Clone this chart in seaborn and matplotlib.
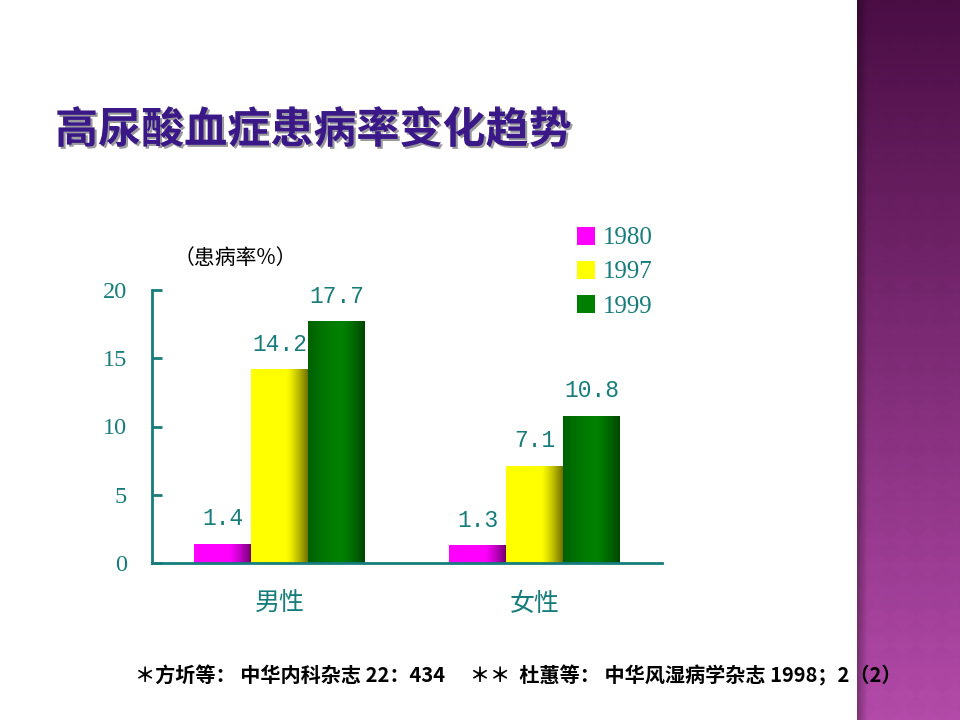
import numpy as np
import pandas as pd
import matplotlib
matplotlib.use('Agg')
import matplotlib.pyplot as plt
import matplotlib.colors as mcolors
import matplotlib.patheffects as pe
from matplotlib.patches import Patch
import seaborn as sns

# data
groups = ['男性', '女性']
years = ['1980', '1997', '1999']
rate_1980 = [1.4, 1.3]
rate_1997 = [14.2, 7.1]
rate_1999 = [17.7, 10.8]

df = pd.DataFrame({
    'sex': groups * 3,
    'year': [years[0]] * 2 + [years[1]] * 2 + [years[2]] * 2,
    'rate': rate_1980 + rate_1997 + rate_1999,
})

colors = {'1980': '#ff00ff', '1997': '#ffff00', '1999': '#008000'}
teal = '#167c7c'
cjk = ['Noto Sans CJK SC', 'DejaVu Sans']

sns.set_style('white')
plt.rcParams['font.family'] = cjk

fig = plt.figure(figsize=(9.6, 7.2), dpi=100)
fig.patch.set_facecolor('white')

# decorative purple band on the right
band = fig.add_axes([857 / 960, 0, 103 / 960, 1])
h, w = 720, 103
yy, xx = np.mgrid[0:h, 0:w]
t = yy / h
top = np.array(mcolors.to_rgb('#4a0d44'))
bot = np.array(mcolors.to_rgb('#b34aa9'))
img = top[None, None, :] * (1 - t[..., None]) + bot[None, None, :] * t[..., None]
s = 26
diam = (((xx + yy) // s + (xx - yy + 1000) // s) % 2) * 0.014 - 0.007
img = img * (1 + diam[..., None])
shade = np.clip(xx / 10.0, 0, 1) * 0.3 + 0.7
img = img * shade[..., None]
band.imshow(np.clip(img, 0, 1), aspect='auto', extent=(0, w, h, 0))
band.axis('off')

ax = fig.add_axes([152 / 960, 157 / 720, 510 / 960, 273 / 720])
sns.barplot(data=df, x='sex', y='rate', hue='year', palette=colors,
            width=0.67, saturation=1, ax=ax, edgecolor='none', linewidth=0)

# cylinder-like shading on each bar
tt = np.linspace(0, 1, 64)
for patch, yr in zip(ax.patches, [y for y in years for _ in groups]):
    if patch.get_height() <= 0:
        continue
    base = np.array(mcolors.to_rgb(colors[yr]))
    if yr == '1999':
        f = 0.75 + 0.25 * np.sin(np.clip(tt / 0.6, 0, 1) * np.pi / 2)
        f = f - 0.45 * np.clip((tt - 0.6) / 0.4, 0, 1) ** 1.3
    else:
        f = 1 - 0.55 * np.clip((tt - 0.62) / 0.38, 0, 1) ** 1.3
    grad = np.clip(base[None, :] * f[:, None], 0, 1)[None, :, :]
    x0, y0 = patch.get_x(), patch.get_y()
    im = ax.imshow(grad, aspect='auto', interpolation='bilinear',
                   extent=(x0, x0 + patch.get_width(), y0, y0 + patch.get_height()),
                   zorder=patch.get_zorder() + 0.1)
    im.set_clip_path(patch)
    ax.text(x0 + patch.get_width() / 2, patch.get_height() + 1.0,
            f'{patch.get_height():.1f}', ha='center', va='bottom',
            color=teal, fontsize=16.5, family=['Liberation Mono', 'DejaVu Sans Mono'])

ax.set_xlim(-0.5, 1.5)
ax.set_ylim(0, 20)
ax.set_yticks([0, 5, 10, 15, 20])
ax.set_yticklabels(['0', '5', '10', '15', '20'], family=['Liberation Serif'],
                   fontsize=17.5, color=teal)
ax.set_xticks([0, 1])
ax.set_xticklabels(groups, fontsize=18, color=teal, fontweight='medium')
ax.set_xticks([-0.5, 0.5, 1.5], minor=True)
ax.tick_params(axis='x', which='major', length=0, pad=20)
ax.tick_params(axis='x', which='minor', direction='in', length=7, width=2, color=teal)
ax.tick_params(axis='y', direction='in', length=7, width=2, color=teal, pad=18, left=True)
for side in ['top', 'right']:
    ax.spines[side].set_visible(False)
for side in ['left', 'bottom']:
    ax.spines[side].set_color(teal)
    ax.spines[side].set_linewidth(2)
ax.set_xlabel('')
ax.set_ylabel('')
ax.set_facecolor('none')

ax.get_legend().remove()
handles = [Patch(facecolor=colors[y], edgecolor='none') for y in years]
leg = fig.legend(handles, years, loc='upper left', bbox_to_anchor=(554 / 960, 1 - 204 / 720),
                 frameon=False, handlelength=0.75, handleheight=0.75, handletextpad=0.3,
                 labelspacing=0.45, prop={'family': 'Liberation Serif', 'size': 18})
for txt in leg.get_texts():
    txt.set_color(teal)

fig.text(235 / 960, 1 - 258 / 720, '（患病率%）', ha='center', va='center',
         fontsize=15, color='black')

# title with shadow
fig.text(55 / 960, 1 - 130 / 720, '高尿酸血症患病率变化趋势',
         ha='left', va='center', fontsize=31, fontweight='bold', color='#3a1888',
         path_effects=[pe.withSimplePatchShadow(offset=(1.5, -1.5), shadow_rgbFace='#9a9a9a', alpha=1)])

fig.text(135 / 960, 1 - 676 / 720,
         '＊方圻等： 中华内科杂志 22：434　 ＊＊  杜蕙等： 中华风湿病学杂志 1998；2（2）',
         ha='left', va='center', fontsize=14.5, fontweight='bold', color='black',
         family=['Noto Sans CJK SC', 'DejaVu Sans'])

fig.savefig('out.png', dpi=100)
